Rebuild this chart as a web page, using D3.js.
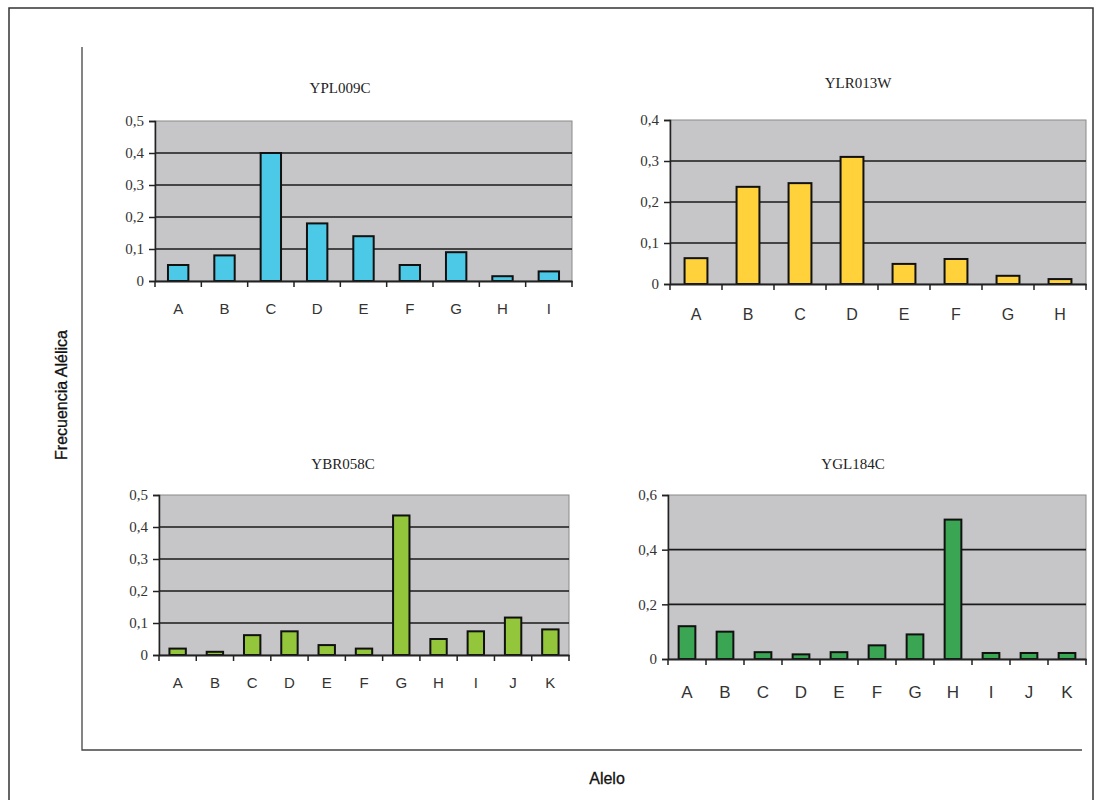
<!DOCTYPE html>
<html><head><meta charset="utf-8">
<script src="https://cdn.jsdelivr.net/npm/d3@7"></script>
<style>body{margin:0;background:#fff}svg{display:block}</style>
</head><body>
<script>
// ---- data ----
const titles = ["YPL009C", "YLR013W", "YBR058C", "YGL184C"];
const cats1 = ["A","B","C","D","E","F","G","H","I"];
const vals1 = [0.05, 0.08, 0.40, 0.18, 0.14, 0.05, 0.09, 0.015, 0.03];
const cats2 = ["A","B","C","D","E","F","G","H"];
const vals2 = [0.063, 0.237, 0.246, 0.31, 0.049, 0.061, 0.02, 0.012];
const cats3 = ["A","B","C","D","E","F","G","H","I","J","K"];
const vals3 = [0.02, 0.01, 0.062, 0.074, 0.031, 0.02, 0.436, 0.05, 0.074, 0.117, 0.08];
const cats4 = ["A","B","C","D","E","F","G","H","I","J","K"];
const vals4 = [0.12, 0.10, 0.025, 0.017, 0.025, 0.05, 0.09, 0.51, 0.022, 0.022, 0.022];
const ticks1 = [0, 0.1, 0.2, 0.3, 0.4, 0.5];
const ticks2 = [0, 0.1, 0.2, 0.3, 0.4];
const ticks3 = [0, 0.1, 0.2, 0.3, 0.4, 0.5];
const ticks4 = [0, 0.2, 0.4, 0.6];
const yTitle = "Frecuencia Alélica";
const xTitle = "Alelo";

const W = 1101, H = 800;
const svg = d3.select("body").append("svg").attr("width", W).attr("height", H);

// outer frame
svg.append("rect").attr("x", 9).attr("y", 8).attr("width", 1084).attr("height", 800)
  .attr("fill", "none").attr("stroke", "#333").attr("stroke-width", 1.5);
// inner L frame
svg.append("path").attr("d", "M82,47 V750 H1082").attr("fill", "none")
  .attr("stroke", "#444").attr("stroke-width", 1.3);

svg.append("text").attr("transform", "translate(67,395) rotate(-90)")
  .attr("text-anchor", "middle").attr("font-family", "Liberation Sans, Arial, sans-serif")
  .attr("font-size", 16).attr("fill", "#111").attr("stroke", "#111").attr("stroke-width", 0.3)
  .text(yTitle);
svg.append("text").attr("x", 607).attr("y", 784)
  .attr("text-anchor", "middle").attr("font-family", "Liberation Sans, Arial, sans-serif")
  .attr("font-size", 16).attr("fill", "#111").attr("stroke", "#111").attr("stroke-width", 0.3)
  .text(xTitle);

const panels = [
  {cats: cats1, vals: vals1, ticks: ticks1, title: titles[0], color: "#4cc9e6", x0: 155, x1: 572, yt: 121, yb: 281, tx: 340, ty: 93, lb: 314, fs: 15},
  {cats: cats2, vals: vals2, ticks: ticks2, title: titles[1], color: "#ffd23c", x0: 670, x1: 1086, yt: 120, yb: 284, tx: 858, ty: 88, lb: 320, fs: 16},
  {cats: cats3, vals: vals3, ticks: ticks3, title: titles[2], color: "#93c63a", x0: 159, x1: 569, yt: 495, yb: 655, tx: 343, ty: 469, lb: 688, fs: 15},
  {cats: cats4, vals: vals4, ticks: ticks4, title: titles[3], color: "#3aa653", x0: 668, x1: 1086, yt: 495, yb: 659, tx: 853, ty: 469, lb: 698, fs: 17}
];

panels.forEach(p => {
  const g = svg.append("g");
  const x = d3.scaleBand().domain(p.cats).range([p.x0, p.x1]).paddingInner(0).paddingOuter(0);
  const xb = d3.scaleBand().domain(p.cats).range([p.x0, p.x1]).paddingInner(0.56).paddingOuter(0.28);
  const y = d3.scaleLinear().domain([0, d3.max(p.ticks)]).range([p.yb, p.yt]);

  g.append("rect").attr("x", p.x0).attr("y", p.yt).attr("width", p.x1 - p.x0).attr("height", p.yb - p.yt)
    .attr("fill", "#c6c6c8").attr("stroke", "#8a8a8a").attr("stroke-width", 1);

  // grid
  g.selectAll(".grid").data(p.ticks.filter(t => t > 0 && t < d3.max(p.ticks))).enter().append("line")
    .attr("x1", p.x0).attr("x2", p.x1).attr("y1", d => y(d)).attr("y2", d => y(d))
    .attr("stroke", "#1a1a1a").attr("stroke-width", 1.6);

  // bars
  g.selectAll(".bar").data(p.vals).enter().append("rect")
    .attr("x", (d, i) => xb(p.cats[i])).attr("width", xb.bandwidth())
    .attr("y", d => y(d)).attr("height", d => y(0) - y(d))
    .attr("fill", p.color).attr("stroke", "#111").attr("stroke-width", 2);

  // y axis
  const ya = d3.axisLeft(y).tickValues(p.ticks).tickSize(6).tickPadding(5)
    .tickFormat(d => d === 0 ? "0" : d.toFixed(1).replace(".", ","));
  const yg = g.append("g").attr("transform", `translate(${p.x0},0)`).call(ya);
  yg.select(".domain").attr("stroke", "#222").attr("stroke-width", 1.5);
  yg.selectAll(".tick line").attr("stroke", "#222").attr("stroke-width", 1.5);
  yg.selectAll("text").attr("font-family", "Liberation Serif, Times New Roman, serif")
    .attr("font-size", 15).attr("fill", "#333");

  // x axis
  const xa = d3.axisBottom(x).tickSize(0).tickPadding(0);
  const xg = g.append("g").attr("transform", `translate(0,${p.yb})`).call(xa);
  xg.select(".domain").attr("stroke", "#222").attr("stroke-width", 1.8);
  xg.selectAll(".tick text").attr("y", p.lb - p.yb).attr("dy", 0)
    .attr("font-family", "Liberation Sans, Arial, sans-serif").attr("font-size", p.fs).attr("fill", "#333");
  // boundary ticks
  const bounds = p.cats.map(c => x(c)).concat([p.x1]);
  g.selectAll(".bt").data(bounds).enter().append("line")
    .attr("x1", d => d).attr("x2", d => d).attr("y1", p.yb).attr("y2", p.yb + 6)
    .attr("stroke", "#222").attr("stroke-width", 1.5);

  g.append("text").attr("x", p.tx).attr("y", p.ty).attr("text-anchor", "middle")
    .attr("font-family", "Liberation Serif, Times New Roman, serif").attr("font-size", 15)
    .attr("fill", "#222").text(p.title);
});
</script>
</body></html>
